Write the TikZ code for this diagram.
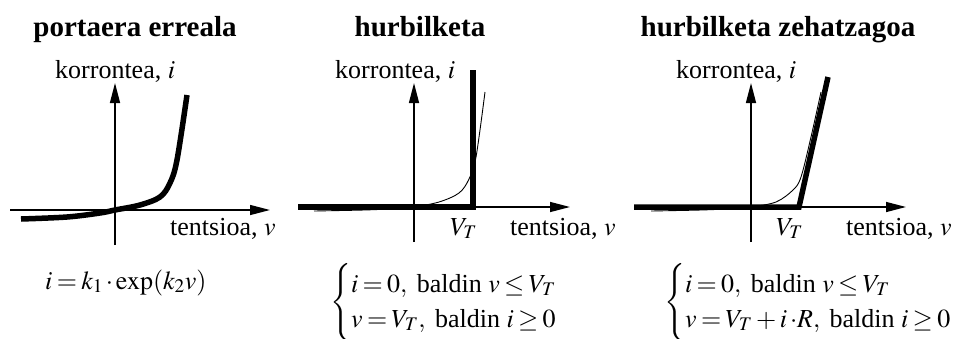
\documentclass[tikz,border=0pt]{standalone}
\usepackage{mathptmx}
\usepackage{fontspec}
\setmainfont{Liberation Serif}
\usetikzlibrary{arrows.meta}
\newcommand{\tightmath}{\thickmuskip=3mu\relax\medmuskip=2.5mu\relax}

\begin{document}
\begin{tikzpicture}[
        x=1pt, y=-1pt,
        axis/.style={line width=1.4pt, -{Triangle[length=20pt, width=10pt]}},
        heavy/.style={line width=5.5pt},
        light/.style={line width=0.9pt},
        lbl/.style={inner sep=0pt, font=\fontsize{26}{35}\selectfont},
        law/.style={inner sep=0pt, font=\fontsize{26}{35}\selectfont\tightmath},
        ttl/.style={inner sep=0pt, font=\fontsize{29}{32}\selectfont\bfseries},
    ]
    \useasboundingbox (0,0) rectangle (956,338);

    % Panel 1: real characteristic
    \coordinate (o1) at (115,210);
    \coordinate (xs1) at (10,210);
    \coordinate (xe1) at (270,210);
    \coordinate (ys1) at (115,245);
    \coordinate (ye1) at (115,83);
    \node[ttl, anchor=base] (title1) at (135,36) {portaera erreala};
    \node[lbl, anchor=base west] (ilabel1) at (55,78) {korrontea, $i$};
    \node[lbl, anchor=base west] (vlabel1) at (170,235) {tentsioa, $v$};
    \draw[axis] (xs1) -- (xe1);
    \draw[axis] (ys1) -- (ye1);
    \draw[heavy, shift={(o1)}] plot[smooth, tension=0.55] coordinates
        {(-94,9) (-48,7) (-15,3) (0,0) (25,-5) (45,-13) (55,-27) (62,-50) (72,-115)};
    \node[law, anchor=base west] (law1) at (45,289) {$i = k_1\,{\cdot}\exp(k_2v)$};

    % Panel 2: ideal approximation
    \coordinate (o2) at (414,207);
    \coordinate (xs2) at (298,207);
    \coordinate (xe2) at (570,207);
    \coordinate (ys2) at (414,242);
    \coordinate (ye2) at (414,83);
    \coordinate (knee2) at (473,207);
    \coordinate (top2) at (473,70);
    \node[ttl, anchor=base] (title2) at (420,36) {hurbilketa};
    \node[lbl, anchor=base west] (ilabel2) at (335,78) {korrontea, $i$};
    \node[lbl, anchor=base west] (vlabel2) at (510,235) {tentsioa, $v$};
    \node[lbl, anchor=base west] (vt2) at (450,235) {$V_T$};
    \draw[axis] (xs2) -- (xe2);
    \draw[axis] (ys2) -- (ye2);
    \draw[light, shift={(o2)}] plot[smooth, tension=0.55] coordinates
        {(-100,4) (-50,3) (-15,1.5) (0,0) (25,-5) (45,-14) (55,-28) (62,-50) (71,-115)};
    \draw[heavy] (xs2) -- (knee2) -- (top2);
    \node[law, anchor=west] (law2) at (330,302.5)
        {$\left\{\begin{array}{@{}l@{}}
            i = 0,\mbox{ baldin } v \le V_T\\
            v = V_T,\mbox{ baldin } i \ge 0
        \end{array}\right.$};

    % Panel 3: closer approximation
    \coordinate (o3) at (751,207);
    \coordinate (xs3) at (634,207);
    \coordinate (xe3) at (906,207);
    \coordinate (ys3) at (751,242);
    \coordinate (ye3) at (751,83);
    \coordinate (knee3) at (799,207);
    \coordinate (top3) at (828,77);
    \node[ttl, anchor=base] (title3) at (778,36) {hurbilketa zehatzagoa};
    \node[lbl, anchor=base west] (ilabel3) at (676,78) {korrontea, $i$};
    \node[lbl, anchor=base west] (vlabel3) at (846,235) {tentsioa, $v$};
    \node[lbl, anchor=base west] (vt3) at (776,235) {$V_T$};
    \draw[axis] (xs3) -- (xe3);
    \draw[axis] (ys3) -- (ye3);
    \draw[light, shift={(o3)}] plot[smooth, tension=0.55] coordinates
        {(-100,4) (-50,3) (-15,1.5) (0,0) (25,-5) (42,-17) (50,-30) (60,-70) (70,-115)};
    \draw[heavy] (xs3) -- (knee3) -- (top3);
    \node[law, anchor=west] (law3) at (664,302.5)
        {$\left\{\begin{array}{@{}l@{}}
            i = 0,\mbox{ baldin } v \le V_T\\
            v = V_T + i\,{\cdot}R,\mbox{ baldin } i \ge 0
        \end{array}\right.$};
\end{tikzpicture}
\end{document}
